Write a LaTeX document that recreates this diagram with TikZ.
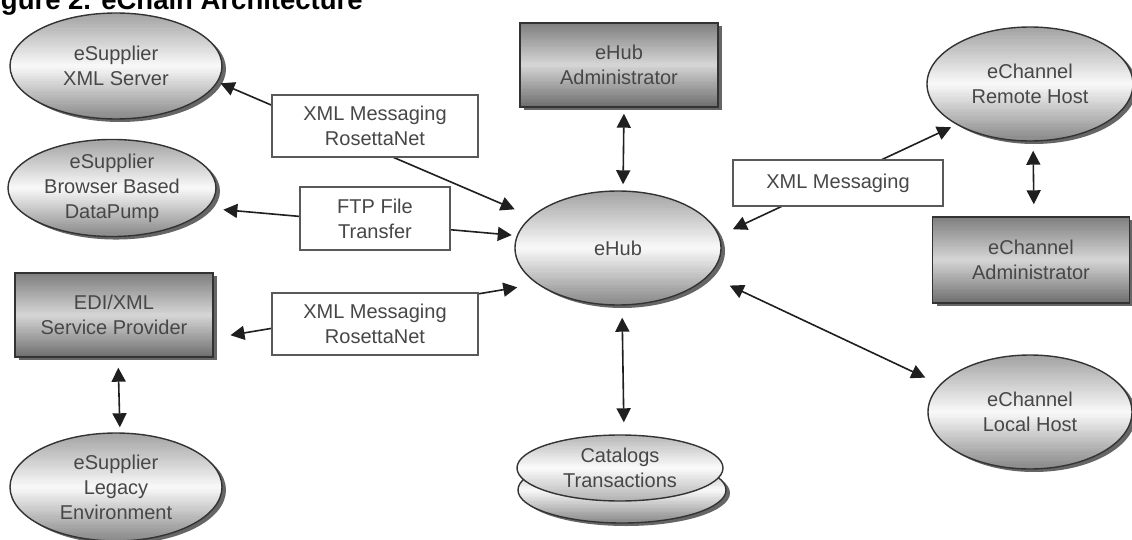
\documentclass[tikz,border=0pt]{standalone}
\usepackage{fontspec}
\setmainfont{Liberation Sans}
\usetikzlibrary{arrows.meta,shapes.geometric,shadows,calc}
\colorlet{eTop}{black!36}
\colorlet{eMid}{black!3}
\colorlet{eBot}{black!46}
\colorlet{bTop}{black!50}
\colorlet{bMid}{black!17}
\colorlet{bBot}{black!56}
\colorlet{cTop}{black!28}
\colorlet{cMid}{black!2}
\colorlet{cBot}{black!30}
\tikzset{vgrad/.style n args={3}{path picture={
  \coordinate (pA) at (path picture bounding box.north west);
  \coordinate (pB) at (path picture bounding box.south east);
  \foreach \i in {0,...,47}{
    \pgfmathsetmacro\ta{\i/48}
    \pgfmathsetmacro\tb{(\i+1.4)/48}
    \pgfmathsetmacro\pc{\i<24 ? 100*\i/23 : 100*(47-\i)/23}
    \ifnum\i<24 \colorlet{tmpc}{#2!\pc!#1}\else\colorlet{tmpc}{#2!\pc!#3}\fi
    \fill[tmpc] ($(pA)!\ta!(pA|-pB)$) rectangle ($(pB|-pA)!\tb!(pB)$);
  }
}}}
\begin{document}
\begin{tikzpicture}[x=1pt,y=-1pt,
  every node/.style={font=\fontsize{20}{25}\selectfont, text=black!72, align=center},
  shad/.style={drop shadow={shadow xshift=4pt, shadow yshift=-3pt, fill=black!60, opacity=1}},
  ell/.style={ellipse, draw=black!80, line width=1.4pt, inner sep=0pt, fill=white, vgrad={eTop}{eMid}{eBot}, shad},
  boxnode/.style={rectangle, draw=black!80, line width=1.4pt, inner sep=0pt, fill=white, vgrad={bTop}{bMid}{bBot}, shad},
  lab/.style={rectangle, draw=black!65, line width=1.2pt, fill=white, inner sep=0pt},
  conn/.style={draw=black!88, line width=1.6pt, >={Triangle[length=14pt,width=14pt]}, <->}
]
\useasboundingbox (0,0) rectangle (1132,540);
\fill[white] (0,0) rectangle (1132,540);

% title (clipped at top, as in the reference)
\node[anchor=base west, font=\bfseries\fontsize{27.5}{30}\selectfont, text=black] (title) at (-27,10) {Figure 2. eChain Architecture};

% main shapes
\node[ell, minimum width=212, minimum height=106] (xmls) at (116,66) {eSupplier\\XML Server};
\node[ell, minimum width=208, minimum height=96] (dp) at (112,188) {eSupplier\\Browser Based\\DataPump};
\node[boxnode, minimum width=198, minimum height=84] (edi) at (114,315) {EDI/XML\\Service Provider};
\node[ell, minimum width=212, minimum height=108] (legacy) at (116,487) {eSupplier\\Legacy\\Environment};
\node[boxnode, minimum width=198, minimum height=84] (hadm) at (619,65) {eHub\\Administrator};
\node[ell, minimum width=206, minimum height=114] (hub) at (618,248) {eHub};
\node[ellipse, draw=black!80, line width=1.4pt, inner sep=0pt, minimum width=208, minimum height=66, fill=white, vgrad={eTop}{eMid}{eBot}, shad] (catbase) at (622,490) {};
\node[ellipse, draw=black!80, line width=1.4pt, inner sep=0pt, minimum width=206, minimum height=66, fill=white, vgrad={cTop}{cMid}{cBot}] (cat) at (620,468) {Catalogs\\Transactions};
\node[ell, minimum width=206, minimum height=114] (remote) at (1030,84) {eChannel\\Remote Host};
\node[boxnode, minimum width=197, minimum height=86] (cadm) at (1031,260) {eChannel\\Administrator};
\node[ell, minimum width=204, minimum height=114] (local) at (1030,412) {eChannel\\Local Host};

% connectors
\draw[conn, shorten <=3pt, shorten >=18pt] (xmls.-9) -- (hub.160);
\draw[conn, shorten <=16pt, shorten >=5pt] (dp.-12) -- (hub.173);
\draw[conn, shorten <=17pt, shorten >=20pt] (edi.-13) -- (hub.204);
\draw[conn, shorten <=15pt, shorten >=6pt] (hub.7) -- (remote.209);
\draw[conn, shorten <=23pt, shorten >=16pt] (hub.-17) -- (local.163);
\draw[conn, shorten <=6pt, shorten >=6pt] ([xshift=5pt]hadm.south) -- ([xshift=5pt]hub.north);
\draw[conn, shorten <=12pt, shorten >=12pt] ([xshift=4pt]hub.south) -- ([xshift=4pt]cat.north);
\draw[conn, shorten <=10pt, shorten >=5pt] ([xshift=4pt]edi.south) -- ([xshift=4pt]legacy.north);
\draw[conn, shorten <=9pt, shorten >=12pt] ([xshift=3pt]remote.south) -- ([xshift=3pt]cadm.north);

% label boxes
\node[lab, minimum width=206, minimum height=62] (l1) at (375,126) {XML Messaging\\RosettaNet};
\node[lab, minimum width=150, minimum height=63] (l2) at (375,218.5) {FTP File\\Transfer};
\node[lab, minimum width=206, minimum height=62] (l3) at (375,324) {XML Messaging\\RosettaNet};
\node[lab, minimum width=210, minimum height=46] (l4) at (838,183) {XML Messaging};
\end{tikzpicture}
\end{document}
